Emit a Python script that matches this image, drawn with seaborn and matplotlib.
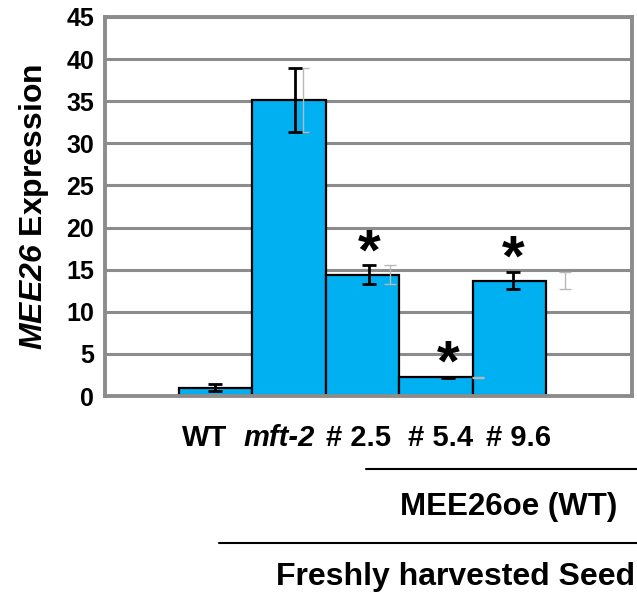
import matplotlib
matplotlib.use('Agg')
import matplotlib.pyplot as plt
import seaborn as sns
import pandas as pd
from matplotlib.lines import Line2D

# ---- data ----
categories = ['WT', 'mft-2', '# 2.5', '# 5.4', '# 9.6']
expression = [1.0, 35.1, 14.4, 2.2, 13.7]
error = [0.45, 3.8, 1.1, 0.1, 1.05]
significant = [False, False, True, True, True]
ytick_values = [0, 5, 10, 15, 20, 25, 30, 35, 40, 45]
group_label = 'MEE26oe (WT)'
condition_label = 'Freshly harvested Seed'

# ---- style ----
sns.set_style('white')
plt.rcParams['font.family'] = ['Liberation Sans', 'DejaVu Sans']
plt.rcParams['mathtext.fontset'] = 'custom'
plt.rcParams['mathtext.sf'] = 'Liberation Sans:bold:italic'
plt.rcParams['mathtext.rm'] = 'Liberation Sans:bold'
for k in ['text.color', 'axes.labelcolor', 'xtick.color', 'ytick.color']:
    plt.rcParams[k] = 'black'

BAR = '#00B0F0'
GRID = '#8c8c8c'
W, H = 637, 601

fig = plt.figure(figsize=(W / 100, H / 100), dpi=100)
ax = fig.add_axes([105 / W, (H - 396) / H, (632 - 105) / W, (396 - 17) / H])

df = pd.DataFrame({'line': categories, 'expr': expression})
sns.barplot(data=df, x='line', y='expr', color=BAR, saturation=1, width=1.0,
            edgecolor='black', linewidth=1.6, errorbar=None, ax=ax, zorder=2)

# positions of the decorations (styling offsets)
err_x = [0.0, 1.09, 2.09, 3.17, 4.05]
ghost_x = [0.0, 1.19, 2.38, 3.58, 4.76]
ax.errorbar(ghost_x, expression, yerr=error, fmt='none', ecolor='#b8b8b8',
            elinewidth=1, capsize=4, capthick=1, zorder=3)
ax.errorbar(err_x, expression, yerr=error, fmt='none', ecolor='black',
            elinewidth=2, capsize=5, capthick=2, zorder=4)

for x, v, e, s in zip(err_x, expression, error, significant):
    if s:
        ax.annotate('*', xy=(x, v + e), xytext=(0, -3), textcoords='offset points',
                    ha='center', va='baseline', fontsize=42, fontweight='bold',
                    color='black', zorder=5)

ax.set_xlim(-1.5, 5.67)
ax.set_ylim(0, 45)
ax.set_yticks(ytick_values)
ax.set_yticklabels([str(v) for v in ytick_values], fontsize=18, fontweight='bold')

label_x = [-0.15, 0.87, 1.95, 3.07, 4.12]
ax.set_xticks(label_x)
ax.set_xticklabels(categories, fontsize=21, fontweight='bold')
for t in ax.get_xticklabels():
    if t.get_text() == 'mft-2':
        t.set_fontstyle('italic')
ax.tick_params(axis='x', length=0, pad=20)
ax.tick_params(axis='y', length=6, width=2, color=GRID, direction='out', pad=2)

ax.set_xlabel('')
ax.set_ylabel(r'$\mathsf{MEE26}$ Expression', fontsize=23, fontweight='bold', labelpad=11)

ax.yaxis.grid(True, color=GRID, lw=2.2, zorder=0)
ax.xaxis.grid(False)
ax.set_axisbelow(True)
for side in ['left', 'right', 'bottom', 'top']:
    ax.spines[side].set_visible(True)
    ax.spines[side].set_color(GRID)
    ax.spines[side].set_linewidth(2.8)

# bracket lines and group labels below the axis
fig.add_artist(Line2D([366 / W, 1.0], [1 - 469 / H] * 2, transform=fig.transFigure,
                      color='black', lw=1.5))
fig.add_artist(Line2D([219 / W, 1.0], [1 - 543 / H] * 2, transform=fig.transFigure,
                      color='black', lw=1.5))
fig.text(509 / W, 1 - 507 / H, group_label, ha='center', va='center',
         fontsize=22.5, fontweight='bold')
fig.text(456 / W, 1 - 577 / H, condition_label, ha='center', va='center',
         fontsize=23, fontweight='bold')

fig.savefig('out.png', dpi=100)
